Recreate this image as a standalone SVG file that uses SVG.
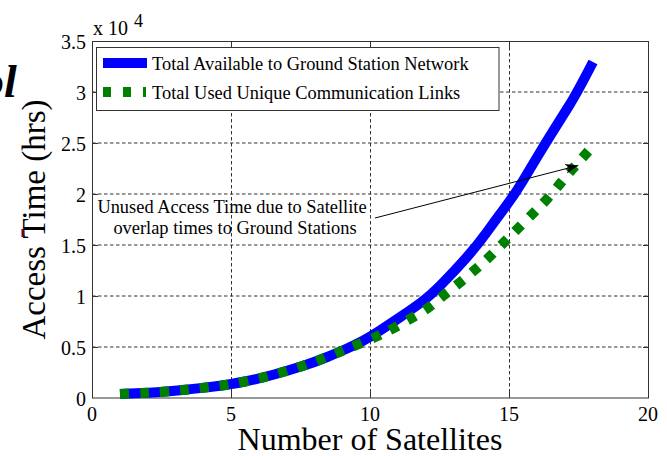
<svg xmlns="http://www.w3.org/2000/svg" width="667" height="456" viewBox="0 0 667 456">
  <style>
    .serif { font-family: "Liberation Serif", "Times New Roman", serif; fill: #000; }
    .tick { font-size: 20px; }
    .ylab { text-anchor: end; }
    .xlab { text-anchor: middle; }
    .axis { fill: none; stroke: #333; stroke-width: 1; }
    .grid { fill: none; stroke: #333; stroke-width: 1; stroke-dasharray: 3.5 2.5; }
    .tk { stroke: #333; stroke-width: 1; }
    .leg { font-size: 18.4px; }
  </style>
  <defs>
    <marker id="head" markerWidth="14" markerHeight="12" refX="0" refY="0" viewBox="-13 -6 14 12" orient="auto" markerUnits="userSpaceOnUse">
      <path d="M0,0 L-13,-4.8 L-9.5,0 L-13,4.8 Z" fill="#000"/>
    </marker>
  </defs>

  <rect width="667" height="456" fill="#fff"/>

  <!-- partial title fragment at the left edge -->
  <text class="serif" x="-19" y="97" font-size="46" font-weight="bold" font-style="italic">ol</text>

  <!-- grid -->
  <g id="grid">
    <line class="grid" x1="231.5" y1="41" x2="231.5" y2="398"/>
    <line class="grid" x1="370.5" y1="41" x2="370.5" y2="398"/>
    <line class="grid" x1="509.5" y1="41" x2="509.5" y2="398"/>
    <line class="grid" x1="92" y1="347" x2="649" y2="347"/>
    <line class="grid" x1="92" y1="296" x2="649" y2="296"/>
    <line class="grid" x1="92" y1="245" x2="649" y2="245"/>
    <line class="grid" x1="92" y1="194" x2="649" y2="194"/>
    <line class="grid" x1="92" y1="143" x2="649" y2="143"/>
    <line class="grid" x1="92" y1="92" x2="649" y2="92"/>
  </g>

  <!-- axes box and ticks -->
  <g id="axes">
    <rect class="axis" x="92.5" y="41.5" width="556" height="356.5"/>
    <path class="tk" d="M92,347.5h6M92,296.5h6M92,245.5h6M92,194.5h6M92,143.5h6M92,92.5h6
                        M649,347.5h-6M649,296.5h-6M649,245.5h-6M649,194.5h-6M649,143.5h-6M649,92.5h-6
                        M231.5,398v-6M370.5,398v-6M509.5,398v-6
                        M231.5,42v6M370.5,42v6M509.5,42v6"/>
  </g>

  <!-- tick labels -->
  <g id="yticks" class="serif tick ylab">
    <text x="86" y="406">0</text>
    <text x="86" y="355">0.5</text>
    <text x="86" y="304">1</text>
    <text x="86" y="253">1.5</text>
    <text x="86" y="202">2</text>
    <text x="86" y="151">2.5</text>
    <text x="86" y="100">3</text>
    <text x="86" y="49">3.5</text>
  </g>
  <g id="xticks" class="serif tick xlab">
    <text x="92" y="421">0</text>
    <text x="231" y="421">5</text>
    <text x="370" y="421">10</text>
    <text x="509" y="421">15</text>
    <text x="648" y="421">20</text>
  </g>
  <text class="serif" x="93" y="35" font-size="20">x 10</text>
  <text class="serif" x="134" y="27" font-size="18">4</text>

  <!-- axis titles -->
  <text class="serif" x="370" y="450" font-size="32" text-anchor="middle">Number of Satellites</text>
  <text class="serif" transform="translate(45,219.5) rotate(-90)" font-size="33" text-anchor="middle">Access Time (hrs)</text>
  <line x1="22.5" y1="229" x2="22.5" y2="237" stroke="#7a0000" stroke-width="2"/>

  <!-- data series -->
  <g id="series">
    <path id="available" fill="none" stroke="#0000ff" stroke-width="10" stroke-linejoin="round"
      d="M120,394 L130,393.5 Q140,393 148.5,392.65 Q157,392.3 166,391.55 Q175,390.8 182.5,390.05 Q190,389.3 200,388.15 Q210,387 220,385.75 Q230,384.5 245,381.5 Q260,378.5 275,374.25 Q290,370 302.5,366 Q315,362 326,357.5 Q337,353 346,349 Q355,345 362.5,341 Q370,337 380,330.5 Q390,324 400,317.25 Q410,310.5 420,303.25 Q430,296 442.5,283.25 Q455,270.5 466,258.1 Q477,245.7 486.5,232.6 Q496,219.5 505.5,206.75 Q515,194 522.5,181.5 Q530,169 537.5,156.5 Q545,144 553,131.25 Q561,118.5 569,105.75 Q577,93 593,62"/>
    <path id="used" fill="none" stroke="#008000" stroke-width="10" stroke-dasharray="9 11" stroke-linejoin="round"
      d="M120,394 L130,393.5 Q140,393 148.5,392.65 Q157,392.3 166,391.55 Q175,390.8 182.5,390.05 Q190,389.3 200,388.15 Q210,387 220,385.75 Q230,384.5 245,381.5 Q260,378.5 275,374.25 Q290,370 302.5,366 Q315,362 326,357.5 Q337,353 346,349.25 Q355,345.5 365,341.5 Q375,337.5 383.35,333.4 Q391.7,329.3 400.5,324.3 Q409.3,319.3 418,314.3 Q426.7,309.3 434.2,303 Q441.7,296.7 449.5,290.7 Q457.3,284.7 465.3,278 Q473.3,271.3 480.5,265 Q487.7,258.7 494.85,251.5 Q502,244.3 508.85,237.5 Q515.7,230.7 523.2,223.2 Q530.7,215.7 537.35,209.2 Q544,202.7 550.85,194.7 Q557.7,186.7 563.85,179.2 Q570,171.7 576.65,164.2 Q583.3,156.7 594,145"/>
  </g>

  <!-- legend -->
  <g id="legend">
    <rect x="96.5" y="47.5" width="402.5" height="63" fill="#fff" stroke="#333" stroke-width="1"/>
    <line x1="103" y1="63" x2="147" y2="63" stroke="#0000ff" stroke-width="10"/>
    <line x1="103" y1="92" x2="146" y2="92" stroke="#008000" stroke-width="10" stroke-dasharray="8 12"/>
    <text class="serif leg" x="152" y="70">Total Available to Ground Station Network</text>
    <text class="serif leg" x="152" y="99">Total Used Unique Communication Links</text>
  </g>

  <!-- annotation -->
  <g id="note">
    <text class="serif leg" x="232" y="213" text-anchor="middle">Unused Access Time due to Satellite</text>
    <text class="serif leg" x="235" y="234" text-anchor="middle">overlap times to Ground Stations</text>
  </g>
  <g id="connectors">
    <line x1="375" y1="218" x2="578.3" y2="165.5" stroke="#000" stroke-width="1" marker-end="url(#head)"/>
  </g>
</svg>
